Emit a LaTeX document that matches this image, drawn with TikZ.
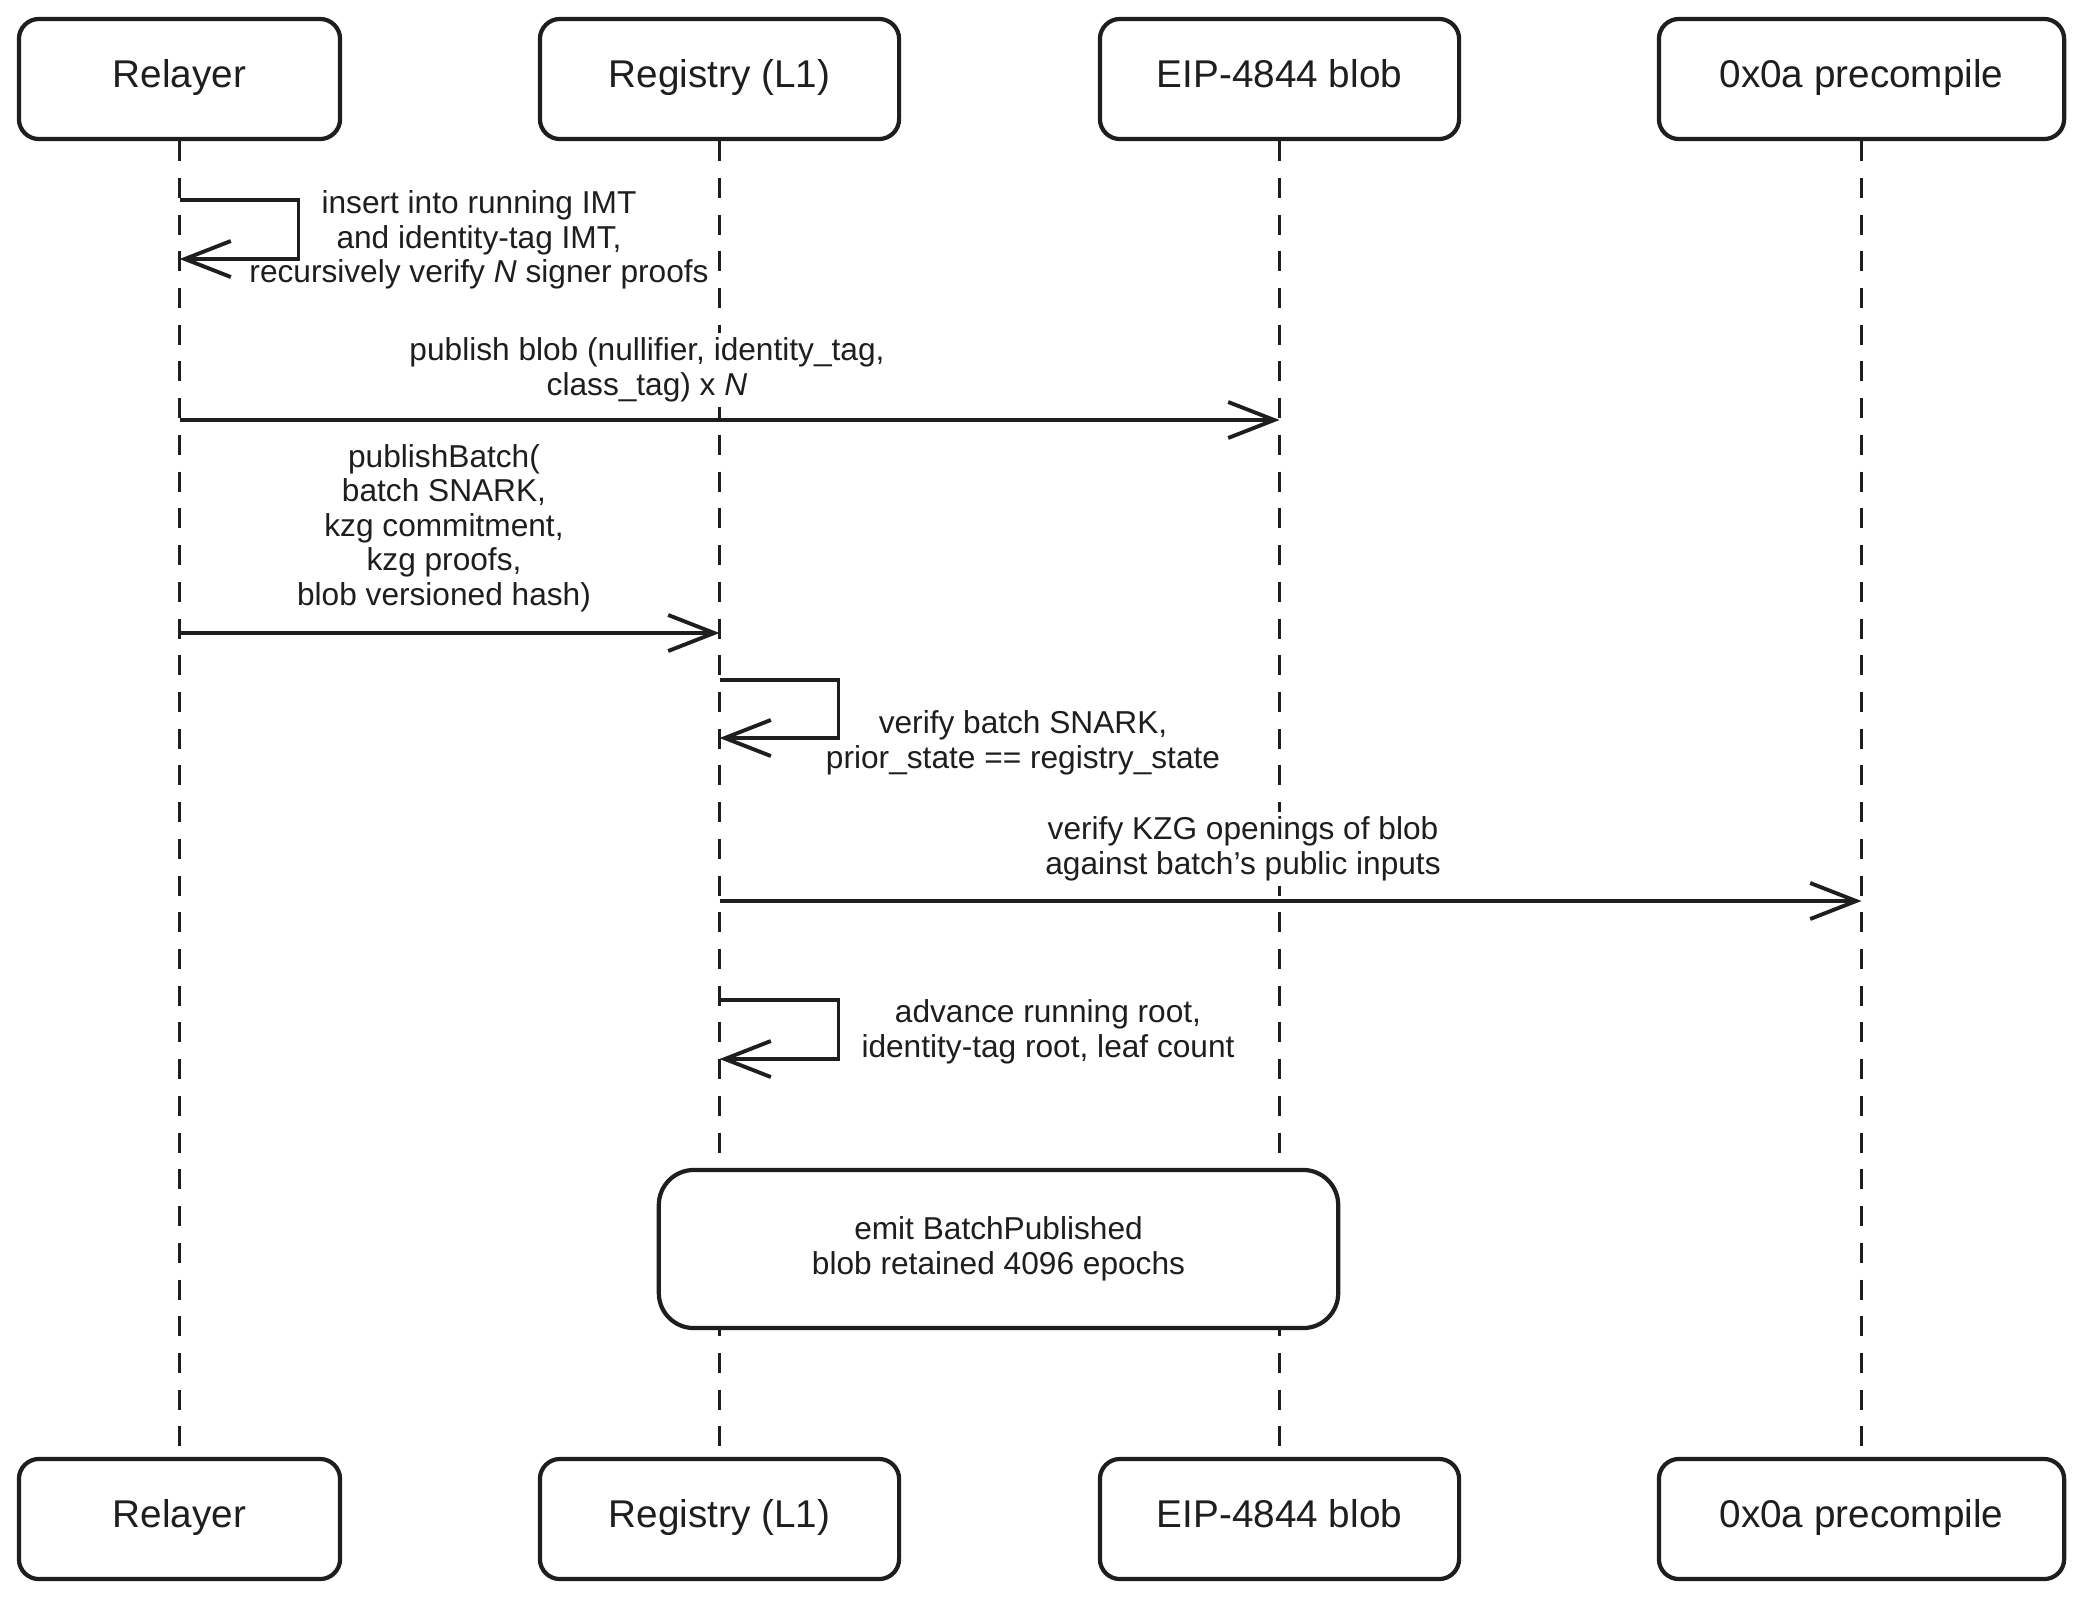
\documentclass[tikz,border=0pt]{standalone}
\usepackage{fontspec}
\setmainfont{Liberation Sans}
\usetikzlibrary{arrows.meta,positioning}
\definecolor{ink}{HTML}{1E1E1E}

\begin{document}
\begin{tikzpicture}[x=0.01cm, y=-0.01cm, color=ink,
  box/.style={draw, line width=1.2pt, rounded corners=0.2cm, minimum height=1.2cm,
    text height=0.75em, text depth=0.25em, font=\fontsize{11}{13}\selectfont},
  life/.style={line width=0.9pt, dash pattern=on 0.2cm off 0.167cm},
  msg/.style={line width=1.1pt, -{Straight Barb[length=4.6mm, width=3.6mm, line width=1.1pt]}},
  txt/.style={fill=white, inner sep=1.5pt, align=center, font=\fontsize{9}{9.8}\selectfont}]
  \useasboundingbox (0,0) rectangle (2080,1600);

  \node[box, minimum width=3.21cm] (RelT) at (179.5,79) {Relayer};
  \node[box, minimum width=3.59cm] (RegT) at (719.5,79) {Registry (L1)};
  \node[box, minimum width=3.59cm] (BlobT) at (1279.5,79) {EIP-4844 blob};
  \node[box, minimum width=4.05cm] (PreT) at (1861.5,79) {0x0a precompile};

  \node[box, minimum width=3.21cm] (RelB) at (179.5,1519) {Relayer};
  \node[box, minimum width=3.59cm] (RegB) at (719.5,1519) {Registry (L1)};
  \node[box, minimum width=3.59cm] (BlobB) at (1279.5,1519) {EIP-4844 blob};
  \node[box, minimum width=4.05cm] (PreB) at (1861.5,1519) {0x0a precompile};

  \draw[life] (RelT) -- (RelB);
  \draw[life] (RegT) -- (RegB);
  \draw[life] (BlobT) -- (BlobB);
  \draw[life] (PreT) -- (PreB);

  \node[txt] (L1) at (479,240) {insert into running IMT\\and identity-tag IMT,\\recursively verify \textit{N} signer proofs};
  \node[txt] (L2) at (647,370) {publish blob (nullifier, identity\_tag,\\class\_tag) x \textit{N}};
  \node[txt] (L3) at (444,528) {publishBatch(\\batch SNARK,\\kzg commitment,\\kzg proofs,\\blob versioned hash)};
  \node[txt] (L4) at (1023,743) {verify batch SNARK,\\prior\_state == registry\_state};
  \node[txt] (L5) at (1243,849) {verify KZG openings of blob\\against batch's public inputs};
  \node[txt] (L6) at (1048,1032) {advance running root,\\identity-tag root, leaf count};

  \coordinate (s1) at (RelT.south |- 0,200);
  \coordinate (s1e) at (RelT.south |- 0,259);
  \draw[msg] (s1) -- ++(119,0) |- (s1e);

  \coordinate (m1) at (RelT.south |- 0,420);
  \coordinate (m1e) at (BlobT.south |- 0,420);
  \draw[msg] (m1) -- (m1e);

  \coordinate (m2) at (RelT.south |- 0,633);
  \coordinate (m2e) at (RegT.south |- 0,633);
  \draw[msg] (m2) -- (m2e);

  \coordinate (s2) at (RegT.south |- 0,680);
  \coordinate (s2e) at (RegT.south |- 0,738);
  \draw[msg] (s2) -- ++(119,0) |- (s2e);

  \coordinate (m3) at (RegT.south |- 0,901);
  \coordinate (m3e) at (PreT.south |- 0,901);
  \draw[msg] (m3) -- (m3e);

  \coordinate (s3) at (RegT.south |- 0,1000);
  \coordinate (s3e) at (RegT.south |- 0,1059);
  \draw[msg] (s3) -- ++(119,0) |- (s3e);

  \node[box, fill=white, rounded corners=0.35cm, minimum width=6.79cm, minimum height=1.58cm,
    text height=, text depth=, align=center, font=\fontsize{9}{9.8}\selectfont] (Emit) at (998.5,1249)
    {emit BatchPublished\\blob retained 4096 epochs};
\end{tikzpicture}
\end{document}
